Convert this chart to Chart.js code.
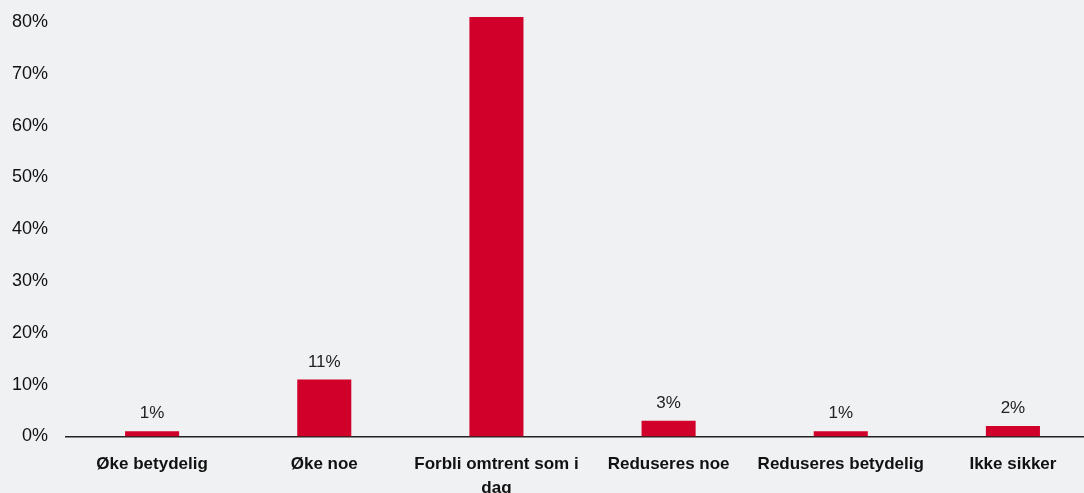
<!DOCTYPE html>
<html>
<head>
  <meta charset="utf-8">
  <title>Chart</title>
  <script src="https://cdn.jsdelivr.net/npm/chart.js@4.4.1/dist/chart.umd.min.js"></script>
  <style>
    html, body { margin: 0; padding: 0; background: #f0f1f3; overflow: hidden; }
    /* plot runs a bit past the right edge, like the original */
    #wrap { width: 1099px; height: 493px; }
  </style>
</head>
<body>
  <div id="wrap"><canvas id="chart"></canvas></div>

  <script>
    var categories = ['Øke betydelig', 'Øke noe', ['Forbli omtrent som i', 'dag'], 'Reduseres noe', 'Reduseres betydelig', 'Ikke sikker'];
    var values = [1, 11, 81, 3, 1, 2];
    var valueLabels = ['1%', '11%', '81%', '3%', '1%', '2%'];

    // draws the % labels above the bars (skipped if outside chart area)
    var barLabels = {
      id: 'barLabels',
      afterDatasetsDraw: function (chart) {
        var ctx = chart.ctx, area = chart.chartArea;
        var meta = chart.getDatasetMeta(0);
        ctx.save();
        ctx.font = '17px "Liberation Sans", Arial, sans-serif';
        ctx.fillStyle = '#222';
        ctx.textAlign = 'center';
        ctx.textBaseline = 'bottom';
        meta.data.forEach(function (bar, i) {
          var y = bar.y - 9;
          if (y - 14 < area.top) return;
          ctx.fillText(valueLabels[i], bar.x, y);
        });
        ctx.restore();
      }
    };

    new Chart(document.getElementById('chart'), {
      type: 'bar',
      data: {
        labels: categories,
        datasets: [{
          data: values,
          backgroundColor: '#d0002b',
          barPercentage: 0.314,
          categoryPercentage: 1
        }]
      },
      options: {
        responsive: true,
        maintainAspectRatio: false,
        animation: false,
        layout: { padding: { left: 12, right: 0, top: 0, bottom: -23 } },
        plugins: { legend: { display: false }, tooltip: { enabled: false } },
        scales: {
          x: {
            grid: { display: false, drawTicks: false },
            border: { color: '#222', width: 1.5 },
            ticks: {
              color: '#111',
              padding: 16,
              maxRotation: 0,
              autoSkip: false,
              font: { family: '"Liberation Sans", Arial, sans-serif', size: 17, weight: 'bold', lineHeight: 1.4 }
            }
          },
          y: {
            min: 0,
            max: 84.1,
            grid: { display: false, drawTicks: true, tickLength: 18 },
            border: { display: false },
            afterBuildTicks: function (axis) {
              axis.ticks = axis.ticks.filter(function (t) { return t.value % 10 === 0; });
            },
            ticks: {
              stepSize: 10,
              color: '#111',
              padding: 0,
              font: { family: '"Liberation Sans", Arial, sans-serif', size: 18, lineHeight: 0.1 },
              callback: function (v) { return v + '%'; }
            }
          }
        }
      },
      plugins: [barLabels]
    });
  </script>
</body>
</html>
